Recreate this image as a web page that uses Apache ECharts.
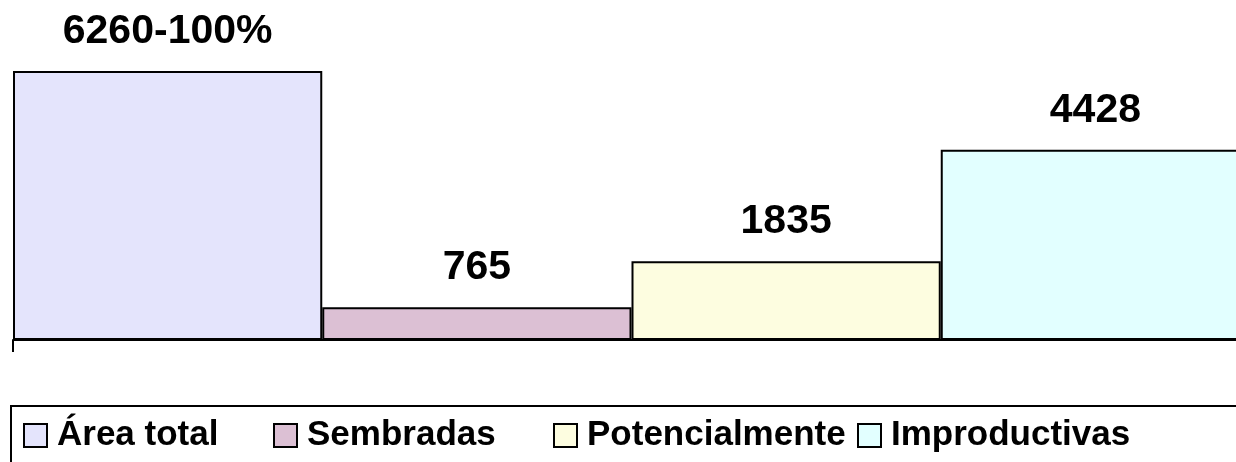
<!DOCTYPE html>
<html lang="es">
<head>
    <meta charset="UTF-8">
    <title>Superficie</title>
    <script src="https://cdn.jsdelivr.net/npm/echarts@6/dist/echarts.min.js"></script>
    <style>
        html, body { margin: 0; padding: 0; background: #fff; overflow: hidden; }
    </style>
</head>
<body>
    <!-- el grafico original sigue mas alla del borde derecho -->
    <div id="main" style="width: 1250px;height:462px;"></div>
    <script type="text/javascript">
        // datos
        const seriesNames = ['Área total', 'Sembradas', 'Potencialmente', 'Improductivas'];
        const seriesValues = [6260, 765, 1835, 4428];
        const labelTexts = ['6260-100%', '765', '1835', '4428'];
        const colors = ['#e4e4fc', '#dcc0d4', '#fdfde0', '#e2ffff'];
        const legendLeft = [23, 273, 553, 857];

        const font = '"Liberation Sans", Arial, sans-serif';

        const series = seriesNames.map((name, i) => ({
            name: name,
            type: 'bar',
            data: [seriesValues[i]],
            barGap: '0%',
            barCategoryGap: '0%',
            itemStyle: { color: colors[i], borderColor: '#000', borderWidth: 2 },
            label: {
                show: true,
                position: 'top',
                distance: 19,
                formatter: () => labelTexts[i],
                color: '#000',
                fontFamily: font,
                fontWeight: 'bold',
                fontSize: 41
            }
        }));

        const legends = seriesNames.map((name, i) => ({
            data: [name],
            left: legendLeft[i],
            top: 418,
            padding: 0,
            itemWidth: 23,
            itemHeight: 23,
            icon: 'rect',
            selectedMode: false,
            textStyle: {
                color: '#000',
                fontFamily: font,
                fontWeight: 'bold',
                fontSize: 35,
                padding: [0, 0, 0, 5]
            }
        }));

        let options = {
            animation: false,
            grid: { left: 13, top: 71, bottom: 122, right: 0 },
            xAxis: {
                type: 'category',
                data: [''],
                axisLine: { lineStyle: { color: '#000', width: 2 } },
                axisTick: { show: true, length: 12, lineStyle: { color: '#000', width: 2 } },
                axisLabel: { show: false }
            },
            yAxis: {
                type: 'value',
                min: 0,
                max: 6260,
                axisLine: { show: false },
                axisTick: { show: false },
                axisLabel: { show: false },
                splitLine: { show: false }
            },
            legend: legends,
            graphic: [{
                type: 'rect',
                shape: { x: 11, y: 406, width: 1260, height: 100 },
                style: { fill: 'none', stroke: '#000', lineWidth: 2 },
                silent: true
            }],
            series: series
        };

        let myChart = echarts.init(document.getElementById('main'));
        myChart.setOption(options);
    </script>
</body>
</html>
